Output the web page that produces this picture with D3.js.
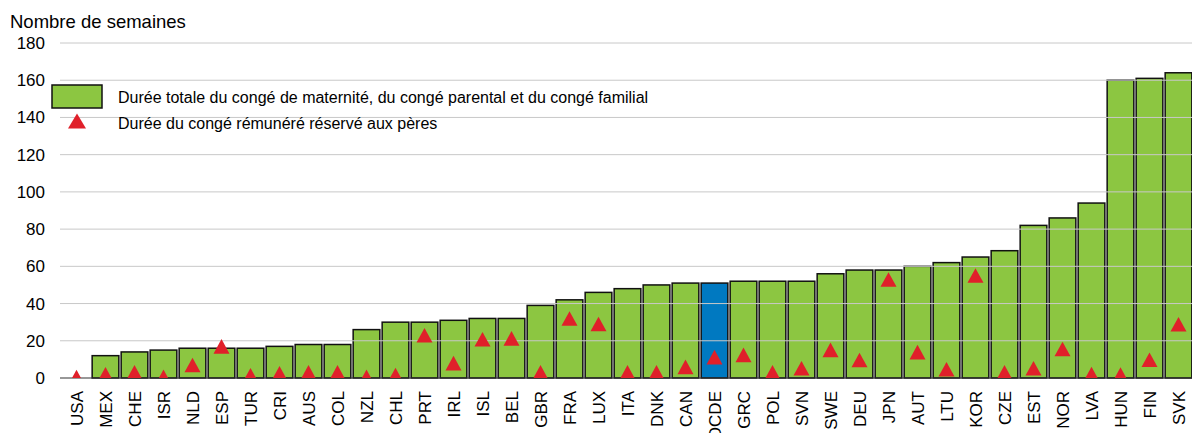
<!DOCTYPE html>
<html>
<head>
<meta charset="utf-8">
<script src="https://cdn.jsdelivr.net/npm/d3@7"></script>
<style>
  body { margin: 0; background: #fff; }
  svg { display: block; font-family: Arial, "Liberation Sans", sans-serif; }
</style>
</head>
<body>
<svg id="chart" width="1192" height="433"></svg>
<script>
// countries, in display order
const countries = ["USA", "MEX", "CHE", "ISR", "NLD", "ESP", "TUR", "CRI", "AUS", "COL",
  "NZL", "CHL", "PRT", "IRL", "ISL", "BEL", "GBR", "FRA", "LUX", "ITA", "DNK", "CAN",
  "OCDE", "GRC", "POL", "SVN", "SWE", "DEU", "JPN", "AUT", "LTU", "KOR", "CZE", "EST",
  "NOR", "LVA", "HUN", "FIN", "SVK"];

// total length of maternity, parental and home care leave (weeks)
const totalLeave = [0, 12, 14, 15, 16, 16, 16, 17, 18, 18,
  26, 30, 30, 31, 32, 32, 39, 42, 46, 48, 50, 51,
  51, 52, 52, 52, 56, 58, 58, 60, 62, 65, 68.4, 82,
  86, 94, 160, 161, 164];

// paid leave reserved for fathers (weeks)
const fatherLeave = [0.5, 2, 3, 0.6, 7, 17, 1.5, 2.5, 3, 3,
  0.6, 1.6, 23, 8, 20.8, 21.3, 3, 32, 29, 3, 3, 6,
  11.2, 12.4, 3, 5.2, 15.1, 9.7, 52.9, 13.9, 4.7, 55.1, 3, 5.2,
  15.6, 2.1, 1.8, 9.8, 28.9];

const yTicks = [0, 20, 40, 60, 80, 100, 120, 140, 160, 180];

const legendLabels = [
  "Durée totale du congé de maternité, du congé parental et du congé familial",
  "Durée du congé rémunéré réservé aux pères"
];

const green = "#8cc641";
const blue = "#0079c1";
const red = "#e0202a";

const svg = d3.select("#chart");

const plotLeft = 60, plotRight = 1192, plotTop = 43, plotBottom = 378;

const x = d3.scaleBand()
  .domain(countries)
  .range([62, 1193])
  .paddingInner(0.08)
  .paddingOuter(0.04);

const y = d3.scaleLinear()
  .domain([0, 180])
  .range([plotBottom, plotTop]);

// triangle centred on its bounding box
function tri(w, h) {
  return `M0,${-h / 2}L${w / 2},${h / 2}L${-w / 2},${h / 2}Z`;
}

svg.append("defs").append("clipPath")
  .attr("id", "plot")
  .append("rect")
  .attr("x", plotLeft).attr("y", 0)
  .attr("width", plotRight - plotLeft).attr("height", plotBottom);

// y title
svg.append("text")
  .attr("x", 10).attr("y", 28)
  .attr("font-size", 18.5)
  .text("Nombre de semaines");

// bars
svg.append("g")
  .selectAll("rect")
  .data(countries)
  .join("rect")
  .attr("x", d => x(d))
  .attr("y", (d, i) => y(totalLeave[i]))
  .attr("width", x.bandwidth())
  .attr("height", (d, i) => plotBottom - y(totalLeave[i]))
  .attr("fill", d => d === "OCDE" ? blue : green)
  .attr("stroke", "#111")
  .attr("stroke-width", 1.5);

// gridlines drawn over the bars
svg.append("g")
  .selectAll("line")
  .data(yTicks.filter(t => t > 0))
  .join("line")
  .attr("x1", plotLeft).attr("x2", plotRight)
  .attr("y1", d => y(d)).attr("y2", d => y(d))
  .attr("stroke", "#c8c8c8")
  .attr("stroke-width", 1);

// baseline
svg.append("line")
  .attr("x1", plotLeft).attr("x2", plotRight)
  .attr("y1", plotBottom).attr("y2", plotBottom)
  .attr("stroke", "#333")
  .attr("stroke-width", 1.2);

// father markers
svg.append("g")
  .attr("clip-path", "url(#plot)")
  .selectAll("path")
  .data(countries)
  .join("path")
  .attr("d", tri(16, 14.6))
  .attr("transform", (d, i) =>
    `translate(${x(d) + x.bandwidth() / 2},${y(fatherLeave[i])})`)
  .attr("fill", red);

// y axis labels
const yAxis = svg.append("g")
  .attr("transform", `translate(${plotLeft},0)`)
  .call(d3.axisLeft(y).tickValues(yTicks).tickSize(0).tickPadding(15));
yAxis.select(".domain").remove();
yAxis.selectAll("text")
  .attr("font-size", 17)
  .attr("font-family", "Arial, 'Liberation Sans', sans-serif")
  .attr("fill", "#000");

// x axis labels
const xAxis = svg.append("g")
  .attr("transform", `translate(0,${plotBottom})`)
  .call(d3.axisBottom(x).tickSize(0));
xAxis.select(".domain").remove();
xAxis.selectAll("text")
  .attr("font-size", 17)
  .attr("font-family", "Arial, 'Liberation Sans', sans-serif")
  .attr("fill", "#000")
  .attr("text-anchor", "end")
  .attr("dy", "0.38em")
  .attr("transform", "translate(0,13) rotate(-90)")
  .attr("x", 0).attr("y", 0);

// legend
const legend = svg.append("g");
legend.append("rect")
  .attr("x", 52).attr("y", 85)
  .attr("width", 50).attr("height", 23)
  .attr("fill", green)
  .attr("stroke", "#111")
  .attr("stroke-width", 1.5);
legend.append("path")
  .attr("d", tri(18, 15))
  .attr("transform", "translate(77,121)")
  .attr("fill", red);
legend.selectAll("text")
  .data(legendLabels)
  .join("text")
  .attr("x", 118)
  .attr("y", (d, i) => 103 + i * 25.5)
  .attr("font-size", 16)
  .text(d => d);
</script>
</body>
</html>
